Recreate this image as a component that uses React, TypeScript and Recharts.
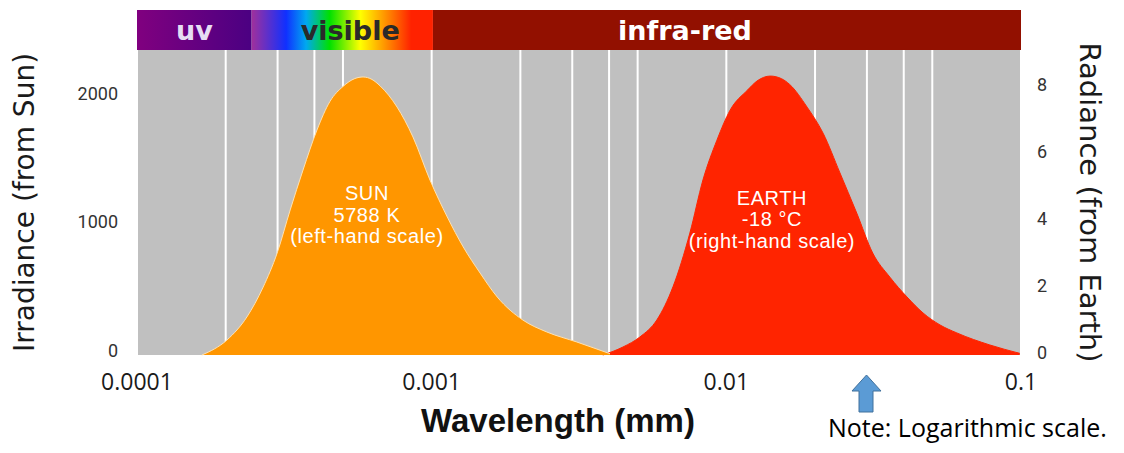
import {
  ComposedChart, Area, XAxis, YAxis, CartesianGrid,
  ReferenceArea, ReferenceDot,
} from 'recharts';

// wavelengths in mm
const sunWavelength = [
  1.66e-4, 2.02e-4, 2.36e-4, 2.68e-4, 2.99e-4, 3.31e-4, 3.66e-4, 4.08e-4,
  4.52e-4, 5.0e-4, 5.49e-4, 5.85e-4, 6.27e-4, 6.68e-4, 7.63e-4, 8.64e-4, 9.87e-4, 1.13e-3,
  1.28e-3, 1.46e-3, 1.67e-3, 2.04e-3, 2.46e-3, 3.11e-3, 4.03e-3,
];
const sunIrradiance = [
  0, 117, 296, 529, 794, 1129, 1440, 1751,
  1975, 2090, 2152, 2164, 2145, 2095, 1930, 1697, 1362, 1074,
  841, 638, 451, 272, 179, 101, 10,
];

const earthWavelength = [
  3.81e-3, 4.46e-3, 5.09e-3, 5.81e-3, 6.59e-3, 7.52e-3, 8.33e-3, 9.29e-3,
  1.03e-2, 1.18e-2, 1.27e-2, 1.41e-2, 1.54e-2, 1.64e-2, 1.88e-2, 2.13e-2, 2.43e-2, 2.77e-2,
  3.14e-2, 3.59e-2, 4.1e-2, 4.65e-2, 5.31e-2, 6.06e-2, 7.84e-2, 9.9e-2,
];
const earthRadiance = [
  0, 0.24, 0.54, 1.05, 2.04, 3.65, 5.24, 6.43,
  7.33, 7.93, 8.2, 8.35, 8.27, 8.1, 7.42, 6.64, 5.45, 4.25,
  3.05, 2.33, 1.74, 1.26, 0.9, 0.66, 0.3, 0.05,
];

const xTicks = [0.0001, 0.001, 0.01, 0.1];
const xTickLabels = ['0.0001', '0.001', '0.01', '0.1'];
const leftTicks = [0, 1000, 2000];
const rightTicks = [0, 2, 4, 6, 8];
const gridWavelengths = [
  2e-4, 3e-4, 4e-4, 5e-4, 1e-3,
  2e-3, 3e-3, 4e-3, 5e-3, 1e-2,
  2e-2, 3e-2, 4e-2, 5e-2,
];

const bandNames = ['uv', 'visible', 'infra-red'];
const bandEdges = [0.0001, 0.000245, 0.00101, 0.1];

const sunNote = ['SUN', '5788 K', '(left-hand scale)'];
const earthNote = ['EARTH', '-18 °C', '(right-hand scale)'];
const sunNoteAt = { w: 6.03e-4, v: 1090 };
const earthNoteAt = { w: 1.428e-2, v: 4.07 };

const chartData = [
  ...sunWavelength.map((w, i) => ({ w, sun: sunIrradiance[i] } as any)),
  ...earthWavelength.map((w, i) => ({ w, earth: earthRadiance[i] } as any)),
].sort((a, b) => a.w - b.w);

const bandData = bandEdges.map((w) => ({ w }));

const BAND_FILLS = ['url(#uvGrad)', 'url(#visGrad)', '#921000'];
const BAND_TEXT = ['#E6DDF3', '#2a2a2a', '#FFFFFF'];
const SANS = '"DejaVu Sans", sans-serif';

const LeftTick = ({ x, y, payload }: any) => (
  <text x={x} y={y - 5} textAnchor="end" dominantBaseline="central" fontSize={18} fill="#333" fontFamily="Roboto">
    {payload.value}
  </text>
);

const RightTick = ({ x, y, payload }: any) => (
  <text x={x} y={y - 3} textAnchor="start" dominantBaseline="central" fontSize={18} fill="#333" fontFamily="Roboto">
    {payload.value}
  </text>
);

const BottomTick = ({ x, y, payload }: any) => (
  <text x={x} y={y} textAnchor="middle" dominantBaseline="central" fontSize={23} fill="#1a1a1a" fontFamily='"Open Sans"'>
    {xTickLabels[xTicks.indexOf(payload.value)]}
  </text>
);

const NoTick = () => null;

const XTitle = ({ viewBox }: any) => (
  <text
    x={viewBox.x + viewBox.width / 2 - 21}
    y={viewBox.y + 77}
    textAnchor="middle"
    fontSize={33}
    fontWeight="bold"
    fill="#111"
    fontFamily='"Liberation Sans", Arial, sans-serif'
  >
    Wavelength (mm)
  </text>
);

const CurveNote = ({ viewBox, lines }: any) => {
  const cx = viewBox.x + viewBox.width / 2;
  const cy = viewBox.y + viewBox.height / 2;
  return (
    <text textAnchor="middle" fill="#fff" fontSize={20} letterSpacing={0.6} fontFamily='"Liberation Sans", Arial, sans-serif'>
      {lines.map((l: string, i: number) => (
        <tspan key={i} x={cx} y={cy + (i - 1) * 21.5} dominantBaseline="central">{l}</tspan>
      ))}
    </text>
  );
};

export default function App() {
  return (
    <div style={{ position: 'absolute', left: 0, top: 0, width: 1124, height: 453, background: '#fff' }}>
      <div style={{ position: 'absolute', left: 0, top: 0 }}>
        <ComposedChart width={1124} height={453} data={chartData} margin={{ top: 50, right: 0, bottom: 0, left: 0 }}>
          <CartesianGrid
            xAxisId="grid"
            yAxisId="left"
            horizontal={false}
            fill="#C0C0C0"
            fillOpacity={1}
            stroke="#FFFFFF"
            strokeWidth={2}
          />
          <XAxis
            type="number"
            dataKey="w"
            scale="log"
            domain={[0.0001, 0.1]}
            allowDataOverflow
            ticks={xTicks}
            interval={0}
            height={98}
            axisLine={false}
            tickLine={false}
            tickSize={0}
            tickMargin={26}
            tick={<BottomTick />}
            label={<XTitle />}
          />
          {/* zero-height axis that only carries the log grid positions */}
          <XAxis
            xAxisId="grid"
            type="number"
            dataKey="w"
            scale="log"
            domain={[0.0001, 0.1]}
            allowDataOverflow
            ticks={gridWavelengths}
            interval={0}
            height={0}
            axisLine={false}
            tickLine={false}
            tick={NoTick}
          />
          <YAxis
            yAxisId="left"
            domain={[0, 2374]}
            ticks={leftTicks}
            width={137}
            axisLine={false}
            tickLine={false}
            tickSize={0}
            tickMargin={19}
            tick={<LeftTick />}
            label={{ value: 'Irradiance (from Sun)', angle: -90, position: 'insideLeft', offset: 24, style: { textAnchor: 'middle', fontSize: 28, fill: '#1a1a1a', fontFamily: SANS } }}
          />
          <YAxis
            yAxisId="right"
            orientation="right"
            domain={[0, 9.13]}
            ticks={rightTicks}
            width={103}
            axisLine={false}
            tickLine={false}
            tickSize={0}
            tickMargin={16}
            tick={<RightTick />}
            label={{ value: 'Radiance (from Earth)', angle: 90, position: 'insideRight', offset: 34, style: { textAnchor: 'middle', fontSize: 29, fill: '#1a1a1a', fontFamily: SANS } }}
          />
          <Area
            yAxisId="right"
            type="monotone"
            dataKey="earth"
            connectNulls
            stroke="#FF2400"
            strokeWidth={1}
            fill="#FF2400"
            fillOpacity={1}
            isAnimationActive={false}
            dot={false}
            activeDot={false}
          />
          <Area
            yAxisId="left"
            type="monotone"
            dataKey="sun"
            connectNulls
            stroke="#FFE2B0"
            strokeWidth={1}
            fill="#FF9600"
            fillOpacity={1}
            isAnimationActive={false}
            dot={false}
            activeDot={false}
          />
          <ReferenceDot
            yAxisId="left"
            x={sunNoteAt.w}
            y={sunNoteAt.v}
            r={2}
            fill="none"
            stroke="none"
            label={<CurveNote lines={sunNote} />}
          />
          <ReferenceDot
            yAxisId="right"
            x={earthNoteAt.w}
            y={earthNoteAt.v}
            r={2}
            fill="none"
            stroke="none"
            label={<CurveNote lines={earthNote} />}
          />
        </ComposedChart>
      </div>

      <div style={{ position: 'absolute', left: 0, top: 0 }}>
        <ComposedChart width={1124} height={50} data={bandData} margin={{ top: 10, right: 103, bottom: 0, left: 137 }}>
          <defs>
            <linearGradient id="uvGrad" x1="0" y1="0" x2="1" y2="0">
              <stop offset="0%" stopColor="#80007F" />
              <stop offset="100%" stopColor="#4B0082" />
            </linearGradient>
            <linearGradient id="visGrad" x1="0" y1="0" x2="1" y2="0">
              <stop offset="0%" stopColor="#A0309C" />
              <stop offset="19%" stopColor="#1030FF" />
              <stop offset="30%" stopColor="#00A8F0" />
              <stop offset="43%" stopColor="#00E000" />
              <stop offset="60%" stopColor="#FFFF00" />
              <stop offset="72%" stopColor="#FFA000" />
              <stop offset="88%" stopColor="#FF2200" />
              <stop offset="100%" stopColor="#FF2200" />
            </linearGradient>
          </defs>
          <XAxis type="number" dataKey="w" scale="log" domain={[0.0001, 0.1]} allowDataOverflow hide />
          <YAxis type="number" domain={[0, 1]} allowDataOverflow hide />
          {bandNames.map((name, i) => (
            <ReferenceArea
              key={name}
              x1={bandEdges[i]}
              x2={bandEdges[i + 1]}
              y1={0}
              y2={1}
              ifOverflow="visible"
              fill={BAND_FILLS[i]}
              fillOpacity={1}
              stroke="none"
              label={{
                value: name,
                position: i === 0 ? 'center' : 'insideLeft',
                offset: i === 1 ? 49 : 185,
                fill: BAND_TEXT[i],
                fontSize: 27,
                fontWeight: 'bold',
                fontFamily: SANS,
              }}
            />
          ))}
        </ComposedChart>
      </div>

      <svg width={1124} height={453} style={{ position: 'absolute', left: 0, top: 0, pointerEvents: 'none' }}>
        <polygon
          points="866.5,375 881,391 873,391 873,412 859,412 859,391 852,391"
          fill="#5B9BD5"
          stroke="#41719C"
          strokeWidth={1}
        />
        <text x={828} y={437} fontSize={25} fill="#000" fontFamily='"Open Sans", sans-serif'>
          Note: Logarithmic scale.
        </text>
      </svg>
    </div>
  );
}
